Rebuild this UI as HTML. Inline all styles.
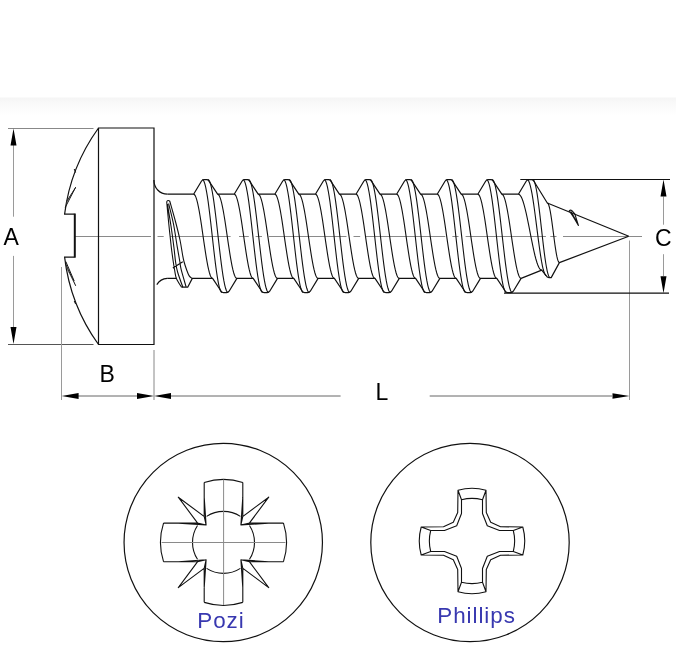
<!DOCTYPE html>
<html><head><meta charset="utf-8"><style>
html,body{margin:0;padding:0;background:#fff;}
body{width:680px;height:670px;overflow:hidden;position:relative;font-family:"Liberation Sans",sans-serif;}
svg{position:absolute;left:0;top:0;will-change:transform;}
.t{position:absolute;line-height:1;white-space:nowrap;}
</style></head><body>
<svg width="680" height="670" viewBox="0 0 680 670">
<defs><linearGradient id="band" x1="0" y1="0" x2="0" y2="1"><stop offset="0" stop-color="#f5f5f5"/><stop offset="0.35" stop-color="#f9f9f9"/><stop offset="1" stop-color="#fff"/></linearGradient></defs>
<rect x="0" y="97.5" width="676" height="18" fill="url(#band)"/>
<path d="M8 128.5 H93.5" stroke="#888" stroke-width="1" fill="none"/>
<path d="M8 344.5 H93.5" stroke="#555" stroke-width="1" fill="none"/>
<path d="M13.5 145 V216.7 M13.5 255.9 V327 M61.5 267 V400 M629.5 240.5 V400 M663.5 196.5 V224.7 M663.5 254.2 V276" stroke="#9a9a9a" stroke-width="1" fill="none"/>
<path d="M154 350 V400" stroke="#888" stroke-width="1" fill="none"/>
<path d="M78 396 H137 M171 396 H340.6 M429.7 396 H612" stroke="#666" stroke-width="1" fill="none"/>
<path d="M13.5 128.5 L10.5 145.5 L16.5 145.5 Z M13.5 344 L16.5 327 L10.5 327 Z M61.6 396 L78.6 399 L78.6 393 Z M154 396 L137 393 L137 399 Z M154 396 L171 399 L171 393 Z M629.5 396 L612.5 393.3 L612.5 398.7 Z M663.5 179.6 L660.5 196.6 L666.5 196.6 Z M663.5 293.2 L666.5 276.2 L660.5 276.2 Z" fill="#000"/>
<path d="M520.3 179.5 H670 M504 293.2 H669" stroke="#111" stroke-width="1.2" fill="none"/>
<path d="M74.5 236.5 H151 M157.5 236.5 H163.7 M170 236.5 H230.6 M239 236.5 H248.8 M255.6 236.5 H262 M268.8 236.5 H346.5 M353.5 236.5 H360.2 M365.9 236.5 H445.3 M452.4 236.5 H458.5 M465.6 236.5 H545.9 M550.3 236.5 H556.5 M563 236.5 H642" stroke="#8a8a8a" stroke-width="1" fill="none"/>
<path d="M98.5 128 H154 V344.5 H98.5 Z M98.5 128 A187 187 0 0 0 64.6 214.1 H74.5 M74.5 257.1 H64.6 A187 187 0 0 0 98.5 344.5" stroke="#111" stroke-width="1.2" fill="none"/>
<path d="M74.8 213.5 V257.7" stroke="#111" stroke-width="2" fill="none"/>
<path d="M154 180 A13.5 13.5 0 0 0 167.5 194.2 M156.8 284.6 A13.4 13.4 0 0 1 167.2 278.4" stroke="#111" stroke-width="1.2" fill="none"/>
<path d="M167.5 194.2 L193.6 194.2 L201.4 181.2 Q202.4 179.6 203.8 179.6 L206.8 179.6 Q208 179.6 208.8 180.8 L217.6 194.2 L234.2 194.2 L242 181.2 Q243 179.6 244.4 179.6 L247.4 179.6 Q248.6 179.6 249.4 180.8 L258.2 194.2 L274.8 194.2 L282.6 181.2 Q283.6 179.6 285 179.6 L288 179.6 Q289.2 179.6 290 180.8 L298.8 194.2 L315.4 194.2 L323.2 181.2 Q324.2 179.6 325.6 179.6 L328.6 179.6 Q329.8 179.6 330.6 180.8 L339.4 194.2 L356 194.2 L363.8 181.2 Q364.8 179.6 366.2 179.6 L369.2 179.6 Q370.4 179.6 371.2 180.8 L380 194.2 L396.6 194.2 L404.4 181.2 Q405.4 179.6 406.8 179.6 L409.8 179.6 Q411 179.6 411.8 180.8 L420.6 194.2 L437.2 194.2 L445 181.2 Q446 179.6 447.4 179.6 L450.4 179.6 Q451.6 179.6 452.4 180.8 L461.2 194.2 L477.8 194.2 L485.6 181.2 Q486.6 179.6 488 179.6 L491 179.6 Q492.2 179.6 493 180.8 L501.8 194.2 L518.4 194.2 L526.2 181.2 Q527.2 179.6 528.6 179.6 L531.6 179.6 Q532.8 179.6 533.6 180.8 L547.3 203 L628.8 236.3 M167.2 278.4 L176.4 278.4 M181.5 287.2 L187.7 287.2 L192.3 278.4 L212.6 278.4 L221 291 Q222.1 292.6 223.5 292.6 L226.7 292.6 Q228.1 292.6 229.1 291.2 L236.9 278.4 L253.2 278.4 L261.6 291 Q262.7 292.6 264.1 292.6 L267.3 292.6 Q268.7 292.6 269.7 291.2 L277.5 278.4 L293.8 278.4 L302.2 291 Q303.3 292.6 304.7 292.6 L307.9 292.6 Q309.3 292.6 310.3 291.2 L318.1 278.4 L334.4 278.4 L342.8 291 Q343.9 292.6 345.3 292.6 L348.5 292.6 Q349.9 292.6 350.9 291.2 L358.7 278.4 L375 278.4 L383.4 291 Q384.5 292.6 385.9 292.6 L389.1 292.6 Q390.5 292.6 391.5 291.2 L399.3 278.4 L415.6 278.4 L424 291 Q425.1 292.6 426.5 292.6 L429.7 292.6 Q431.1 292.6 432.1 291.2 L439.9 278.4 L456.2 278.4 L464.6 291 Q465.7 292.6 467.1 292.6 L470.3 292.6 Q471.7 292.6 472.7 291.2 L480.5 278.4 L496.8 278.4 L505.2 291 Q506.3 292.6 507.7 292.6 L510.9 292.6 Q512.3 292.6 513.3 291.2 L521.1 278.4 L541.7 270.1 L545.8 275.2 Q547 277.4 549 277.6 L551.2 277.6 L559.4 262.6 L628.8 236.3" stroke="#111" stroke-width="1.2" fill="none" stroke-linejoin="round"/>
<path d="M193.6 194.2 L194.39 194.56 L195.18 195.63 L195.97 197.4 L196.77 199.84 L197.56 202.9 L198.35 206.53 L199.14 210.67 L199.93 215.25 L200.72 220.19 L201.52 225.4 L202.31 230.8 L203.1 236.3 L203.89 241.8 L204.68 247.2 L205.47 252.41 L206.27 257.35 L207.06 261.93 L207.85 266.07 L208.64 269.7 L209.43 272.76 L210.22 275.2 L211.02 276.97 L211.81 278.04 L212.6 278.4 M202.4 179.6 L203.22 180.08 L204.04 181.53 L204.86 183.9 L205.68 187.17 L206.5 191.28 L207.32 196.15 L208.15 201.7 L208.97 207.85 L209.79 214.48 L210.61 221.48 L211.43 228.73 L212.25 236.1 L213.07 243.47 L213.89 250.72 L214.71 257.72 L215.53 264.35 L216.35 270.5 L217.18 276.05 L218 280.92 L218.82 285.03 L219.64 288.3 L220.46 290.67 L221.28 292.12 L222.1 292.6 M208 179.6 L208.84 180.08 L209.68 181.53 L210.51 183.9 L211.35 187.17 L212.19 191.28 L213.03 196.15 L213.86 201.7 L214.7 207.85 L215.54 214.48 L216.38 221.48 L217.21 228.73 L218.05 236.1 L218.89 243.47 L219.72 250.72 L220.56 257.72 L221.4 264.35 L222.24 270.5 L223.07 276.05 L223.91 280.92 L224.75 285.03 L225.59 288.3 L226.42 290.67 L227.26 292.12 L228.1 292.6 M217.6 194.2 L218.4 194.56 L219.21 195.63 L220.01 197.4 L220.82 199.84 L221.62 202.9 L222.43 206.53 L223.23 210.67 L224.03 215.25 L224.84 220.19 L225.64 225.4 L226.45 230.8 L227.25 236.3 L228.05 241.8 L228.86 247.2 L229.66 252.41 L230.47 257.35 L231.27 261.93 L232.07 266.07 L232.88 269.7 L233.68 272.76 L234.49 275.2 L235.29 276.97 L236.1 278.04 L236.9 278.4 M234.2 194.2 L234.99 194.56 L235.78 195.63 L236.57 197.4 L237.37 199.84 L238.16 202.9 L238.95 206.53 L239.74 210.67 L240.53 215.25 L241.32 220.19 L242.12 225.4 L242.91 230.8 L243.7 236.3 L244.49 241.8 L245.28 247.2 L246.07 252.41 L246.87 257.35 L247.66 261.93 L248.45 266.07 L249.24 269.7 L250.03 272.76 L250.82 275.2 L251.62 276.97 L252.41 278.04 L253.2 278.4 M243 179.6 L243.82 180.08 L244.64 181.53 L245.46 183.9 L246.28 187.17 L247.1 191.28 L247.93 196.15 L248.75 201.7 L249.57 207.85 L250.39 214.48 L251.21 221.48 L252.03 228.73 L252.85 236.1 L253.67 243.47 L254.49 250.72 L255.31 257.72 L256.13 264.35 L256.95 270.5 L257.77 276.05 L258.6 280.92 L259.42 285.03 L260.24 288.3 L261.06 290.67 L261.88 292.12 L262.7 292.6 M248.6 179.6 L249.44 180.08 L250.28 181.53 L251.11 183.9 L251.95 187.17 L252.79 191.28 L253.62 196.15 L254.46 201.7 L255.3 207.85 L256.14 214.48 L256.97 221.48 L257.81 228.73 L258.65 236.1 L259.49 243.47 L260.32 250.72 L261.16 257.72 L262 264.35 L262.84 270.5 L263.68 276.05 L264.51 280.92 L265.35 285.03 L266.19 288.3 L267.02 290.67 L267.86 292.12 L268.7 292.6 M258.2 194.2 L259 194.56 L259.81 195.63 L260.61 197.4 L261.42 199.84 L262.22 202.9 L263.02 206.53 L263.83 210.67 L264.63 215.25 L265.44 220.19 L266.24 225.4 L267.05 230.8 L267.85 236.3 L268.65 241.8 L269.46 247.2 L270.26 252.41 L271.07 257.35 L271.87 261.93 L272.68 266.07 L273.48 269.7 L274.28 272.76 L275.09 275.2 L275.89 276.97 L276.7 278.04 L277.5 278.4 M274.8 194.2 L275.59 194.56 L276.38 195.63 L277.18 197.4 L277.97 199.84 L278.76 202.9 L279.55 206.53 L280.34 210.67 L281.13 215.25 L281.93 220.19 L282.72 225.4 L283.51 230.8 L284.3 236.3 L285.09 241.8 L285.88 247.2 L286.68 252.41 L287.47 257.35 L288.26 261.93 L289.05 266.07 L289.84 269.7 L290.63 272.76 L291.43 275.2 L292.22 276.97 L293.01 278.04 L293.8 278.4 M283.6 179.6 L284.42 180.08 L285.24 181.53 L286.06 183.9 L286.88 187.17 L287.7 191.28 L288.53 196.15 L289.35 201.7 L290.17 207.85 L290.99 214.48 L291.81 221.48 L292.63 228.73 L293.45 236.1 L294.27 243.47 L295.09 250.72 L295.91 257.72 L296.73 264.35 L297.55 270.5 L298.38 276.05 L299.2 280.92 L300.02 285.03 L300.84 288.3 L301.66 290.67 L302.48 292.12 L303.3 292.6 M289.2 179.6 L290.04 180.08 L290.88 181.53 L291.71 183.9 L292.55 187.17 L293.39 191.28 L294.23 196.15 L295.06 201.7 L295.9 207.85 L296.74 214.48 L297.58 221.48 L298.41 228.73 L299.25 236.1 L300.09 243.47 L300.93 250.72 L301.76 257.72 L302.6 264.35 L303.44 270.5 L304.28 276.05 L305.11 280.92 L305.95 285.03 L306.79 288.3 L307.62 290.67 L308.46 292.12 L309.3 292.6 M298.8 194.2 L299.6 194.56 L300.41 195.63 L301.21 197.4 L302.02 199.84 L302.82 202.9 L303.62 206.53 L304.43 210.67 L305.23 215.25 L306.04 220.19 L306.84 225.4 L307.65 230.8 L308.45 236.3 L309.25 241.8 L310.06 247.2 L310.86 252.41 L311.67 257.35 L312.47 261.93 L313.28 266.07 L314.08 269.7 L314.88 272.76 L315.69 275.2 L316.49 276.97 L317.3 278.04 L318.1 278.4 M315.4 194.2 L316.19 194.56 L316.98 195.63 L317.78 197.4 L318.57 199.84 L319.36 202.9 L320.15 206.53 L320.94 210.67 L321.73 215.25 L322.53 220.19 L323.32 225.4 L324.11 230.8 L324.9 236.3 L325.69 241.8 L326.48 247.2 L327.27 252.41 L328.07 257.35 L328.86 261.93 L329.65 266.07 L330.44 269.7 L331.23 272.76 L332.02 275.2 L332.82 276.97 L333.61 278.04 L334.4 278.4 M324.2 179.6 L325.02 180.08 L325.84 181.53 L326.66 183.9 L327.48 187.17 L328.3 191.28 L329.12 196.15 L329.95 201.7 L330.77 207.85 L331.59 214.48 L332.41 221.48 L333.23 228.73 L334.05 236.1 L334.87 243.47 L335.69 250.72 L336.51 257.72 L337.33 264.35 L338.15 270.5 L338.98 276.05 L339.8 280.92 L340.62 285.03 L341.44 288.3 L342.26 290.67 L343.08 292.12 L343.9 292.6 M329.8 179.6 L330.64 180.08 L331.48 181.53 L332.31 183.9 L333.15 187.17 L333.99 191.28 L334.83 196.15 L335.66 201.7 L336.5 207.85 L337.34 214.48 L338.18 221.48 L339.01 228.73 L339.85 236.1 L340.69 243.47 L341.53 250.72 L342.36 257.72 L343.2 264.35 L344.04 270.5 L344.88 276.05 L345.71 280.92 L346.55 285.03 L347.39 288.3 L348.22 290.67 L349.06 292.12 L349.9 292.6 M339.4 194.2 L340.2 194.56 L341.01 195.63 L341.81 197.4 L342.62 199.84 L343.42 202.9 L344.23 206.53 L345.03 210.67 L345.83 215.25 L346.64 220.19 L347.44 225.4 L348.25 230.8 L349.05 236.3 L349.85 241.8 L350.66 247.2 L351.46 252.41 L352.27 257.35 L353.07 261.93 L353.88 266.07 L354.68 269.7 L355.48 272.76 L356.29 275.2 L357.09 276.97 L357.9 278.04 L358.7 278.4 M356 194.2 L356.79 194.56 L357.58 195.63 L358.38 197.4 L359.17 199.84 L359.96 202.9 L360.75 206.53 L361.54 210.67 L362.33 215.25 L363.12 220.19 L363.92 225.4 L364.71 230.8 L365.5 236.3 L366.29 241.8 L367.08 247.2 L367.88 252.41 L368.67 257.35 L369.46 261.93 L370.25 266.07 L371.04 269.7 L371.83 272.76 L372.62 275.2 L373.42 276.97 L374.21 278.04 L375 278.4 M364.8 179.6 L365.62 180.08 L366.44 181.53 L367.26 183.9 L368.08 187.17 L368.9 191.28 L369.73 196.15 L370.55 201.7 L371.37 207.85 L372.19 214.48 L373.01 221.48 L373.83 228.73 L374.65 236.1 L375.47 243.47 L376.29 250.72 L377.11 257.72 L377.93 264.35 L378.75 270.5 L379.57 276.05 L380.4 280.92 L381.22 285.03 L382.04 288.3 L382.86 290.67 L383.68 292.12 L384.5 292.6 M370.4 179.6 L371.24 180.08 L372.08 181.53 L372.91 183.9 L373.75 187.17 L374.59 191.28 L375.43 196.15 L376.26 201.7 L377.1 207.85 L377.94 214.48 L378.78 221.48 L379.61 228.73 L380.45 236.1 L381.29 243.47 L382.12 250.72 L382.96 257.72 L383.8 264.35 L384.64 270.5 L385.48 276.05 L386.31 280.92 L387.15 285.03 L387.99 288.3 L388.82 290.67 L389.66 292.12 L390.5 292.6 M380 194.2 L380.8 194.56 L381.61 195.63 L382.41 197.4 L383.22 199.84 L384.02 202.9 L384.82 206.53 L385.63 210.67 L386.43 215.25 L387.24 220.19 L388.04 225.4 L388.85 230.8 L389.65 236.3 L390.45 241.8 L391.26 247.2 L392.06 252.41 L392.87 257.35 L393.67 261.93 L394.48 266.07 L395.28 269.7 L396.08 272.76 L396.89 275.2 L397.69 276.97 L398.5 278.04 L399.3 278.4 M396.6 194.2 L397.39 194.56 L398.18 195.63 L398.97 197.4 L399.77 199.84 L400.56 202.9 L401.35 206.53 L402.14 210.67 L402.93 215.25 L403.72 220.19 L404.52 225.4 L405.31 230.8 L406.1 236.3 L406.89 241.8 L407.68 247.2 L408.48 252.41 L409.27 257.35 L410.06 261.93 L410.85 266.07 L411.64 269.7 L412.43 272.76 L413.23 275.2 L414.02 276.97 L414.81 278.04 L415.6 278.4 M405.4 179.6 L406.22 180.08 L407.04 181.53 L407.86 183.9 L408.68 187.17 L409.5 191.28 L410.32 196.15 L411.15 201.7 L411.97 207.85 L412.79 214.48 L413.61 221.48 L414.43 228.73 L415.25 236.1 L416.07 243.47 L416.89 250.72 L417.71 257.72 L418.53 264.35 L419.35 270.5 L420.18 276.05 L421 280.92 L421.82 285.03 L422.64 288.3 L423.46 290.67 L424.28 292.12 L425.1 292.6 M411 179.6 L411.84 180.08 L412.68 181.53 L413.51 183.9 L414.35 187.17 L415.19 191.28 L416.02 196.15 L416.86 201.7 L417.7 207.85 L418.54 214.48 L419.38 221.48 L420.21 228.73 L421.05 236.1 L421.89 243.47 L422.73 250.72 L423.56 257.72 L424.4 264.35 L425.24 270.5 L426.08 276.05 L426.91 280.92 L427.75 285.03 L428.59 288.3 L429.43 290.67 L430.26 292.12 L431.1 292.6 M420.6 194.2 L421.4 194.56 L422.21 195.63 L423.01 197.4 L423.82 199.84 L424.62 202.9 L425.42 206.53 L426.23 210.67 L427.03 215.25 L427.84 220.19 L428.64 225.4 L429.45 230.8 L430.25 236.3 L431.05 241.8 L431.86 247.2 L432.66 252.41 L433.47 257.35 L434.27 261.93 L435.08 266.07 L435.88 269.7 L436.68 272.76 L437.49 275.2 L438.29 276.97 L439.1 278.04 L439.9 278.4 M437.2 194.2 L437.99 194.56 L438.78 195.63 L439.57 197.4 L440.37 199.84 L441.16 202.9 L441.95 206.53 L442.74 210.67 L443.53 215.25 L444.32 220.19 L445.12 225.4 L445.91 230.8 L446.7 236.3 L447.49 241.8 L448.28 247.2 L449.08 252.41 L449.87 257.35 L450.66 261.93 L451.45 266.07 L452.24 269.7 L453.03 272.76 L453.83 275.2 L454.62 276.97 L455.41 278.04 L456.2 278.4 M446 179.6 L446.82 180.08 L447.64 181.53 L448.46 183.9 L449.28 187.17 L450.1 191.28 L450.93 196.15 L451.75 201.7 L452.57 207.85 L453.39 214.48 L454.21 221.48 L455.03 228.73 L455.85 236.1 L456.67 243.47 L457.49 250.72 L458.31 257.72 L459.13 264.35 L459.95 270.5 L460.78 276.05 L461.6 280.92 L462.42 285.03 L463.24 288.3 L464.06 290.67 L464.88 292.12 L465.7 292.6 M451.6 179.6 L452.44 180.08 L453.28 181.53 L454.11 183.9 L454.95 187.17 L455.79 191.28 L456.62 196.15 L457.46 201.7 L458.3 207.85 L459.14 214.48 L459.98 221.48 L460.81 228.73 L461.65 236.1 L462.49 243.47 L463.33 250.72 L464.16 257.72 L465 264.35 L465.84 270.5 L466.68 276.05 L467.51 280.92 L468.35 285.03 L469.19 288.3 L470.03 290.67 L470.86 292.12 L471.7 292.6 M461.2 194.2 L462 194.56 L462.81 195.63 L463.61 197.4 L464.42 199.84 L465.22 202.9 L466.02 206.53 L466.83 210.67 L467.63 215.25 L468.44 220.19 L469.24 225.4 L470.05 230.8 L470.85 236.3 L471.65 241.8 L472.46 247.2 L473.26 252.41 L474.07 257.35 L474.87 261.93 L475.68 266.07 L476.48 269.7 L477.28 272.76 L478.09 275.2 L478.89 276.97 L479.7 278.04 L480.5 278.4 M477.8 194.2 L478.59 194.56 L479.38 195.63 L480.18 197.4 L480.97 199.84 L481.76 202.9 L482.55 206.53 L483.34 210.67 L484.13 215.25 L484.93 220.19 L485.72 225.4 L486.51 230.8 L487.3 236.3 L488.09 241.8 L488.88 247.2 L489.67 252.41 L490.47 257.35 L491.26 261.93 L492.05 266.07 L492.84 269.7 L493.63 272.76 L494.42 275.2 L495.22 276.97 L496.01 278.04 L496.8 278.4 M486.6 179.6 L487.42 180.08 L488.24 181.53 L489.06 183.9 L489.88 187.17 L490.7 191.28 L491.52 196.15 L492.35 201.7 L493.17 207.85 L493.99 214.48 L494.81 221.48 L495.63 228.73 L496.45 236.1 L497.27 243.47 L498.09 250.72 L498.91 257.72 L499.73 264.35 L500.55 270.5 L501.38 276.05 L502.2 280.92 L503.02 285.03 L503.84 288.3 L504.66 290.67 L505.48 292.12 L506.3 292.6 M492.2 179.6 L493.04 180.08 L493.88 181.53 L494.71 183.9 L495.55 187.17 L496.39 191.28 L497.23 196.15 L498.06 201.7 L498.9 207.85 L499.74 214.48 L500.57 221.48 L501.41 228.73 L502.25 236.1 L503.09 243.47 L503.93 250.72 L504.76 257.72 L505.6 264.35 L506.44 270.5 L507.27 276.05 L508.11 280.92 L508.95 285.03 L509.79 288.3 L510.62 290.67 L511.46 292.12 L512.3 292.6 M501.8 194.2 L502.6 194.56 L503.41 195.63 L504.21 197.4 L505.02 199.84 L505.82 202.9 L506.62 206.53 L507.43 210.67 L508.23 215.25 L509.04 220.19 L509.84 225.4 L510.65 230.8 L511.45 236.3 L512.25 241.8 L513.06 247.2 L513.86 252.41 L514.67 257.35 L515.47 261.93 L516.27 266.07 L517.08 269.7 L517.88 272.76 L518.69 275.2 L519.49 276.97 L520.3 278.04 L521.1 278.4 M518.4 194.2 L519.37 194.52 L520.34 195.49 L521.31 197.09 L522.28 199.28 L523.25 202.04 L524.23 205.32 L525.2 209.05 L526.17 213.17 L527.14 217.63 L528.11 222.33 L529.08 227.2 L530.05 232.15 L531.02 237.1 L531.99 241.97 L532.96 246.67 L533.93 251.12 L534.9 255.25 L535.88 258.98 L536.85 262.26 L537.82 265.02 L538.79 267.21 L539.76 268.81 L540.73 269.78 L541.7 270.1 M527.2 179.6 L528 180.01 L528.8 181.24 L529.6 183.26 L530.4 186.04 L531.2 189.53 L532 193.67 L532.8 198.4 L533.6 203.62 L534.4 209.26 L535.2 215.21 L536 221.38 L536.8 227.65 L537.6 233.92 L538.4 240.09 L539.2 246.04 L540 251.67 L540.8 256.9 L541.6 261.63 L542.4 265.77 L543.2 269.26 L544 272.04 L544.8 274.06 L545.6 275.29 L546.4 275.7 M532.8 179.6 L533.52 180.02 L534.24 181.27 L534.96 183.33 L535.68 186.16 L536.4 189.73 L537.12 193.95 L537.85 198.77 L538.57 204.1 L539.29 209.85 L540.01 215.92 L540.73 222.2 L541.45 228.6 L542.17 235 L542.89 241.28 L543.61 247.35 L544.33 253.1 L545.05 258.43 L545.78 263.25 L546.5 267.47 L547.22 271.04 L547.94 273.87 L548.66 275.93 L549.38 277.18 L550.1 277.6 M547.3 203 L547.8 203.25 L548.31 204.02 L548.81 205.27 L549.32 206.99 L549.82 209.16 L550.32 211.73 L550.83 214.66 L551.33 217.9 L551.84 221.4 L552.34 225.09 L552.85 228.91 L553.35 232.8 L553.85 236.69 L554.36 240.51 L554.86 244.2 L555.37 247.7 L555.87 250.94 L556.38 253.87 L556.88 256.44 L557.38 258.61 L557.89 260.33 L558.39 261.58 L558.9 262.35 L559.4 262.6 M166.7 201.7 C167.05 205.42 168.03 216.42 168.8 224 C169.57 231.58 170.55 240.87 171.3 247.2 C172.05 253.53 172.75 258.2 173.3 262 C173.85 265.8 174.08 267.25 174.6 270 C175.12 272.75 175.25 275.63 176.4 278.5 C177.55 281.37 180.65 285.75 181.5 287.2 M167.4 204 C168 207.67 169.92 218.8 171 226 C172.08 233.2 173.13 241.2 173.9 247.2 C174.67 253.2 174.98 257.87 175.6 262 C176.22 266.13 176.4 267.8 177.6 272 C178.8 276.2 181.93 284.67 182.8 287.2 M168.6 203.5 C169.42 206.92 172.05 216.72 173.5 224 C174.95 231.28 176.23 240.87 177.3 247.2 C178.37 253.53 179.25 258.25 179.9 262 C180.55 265.75 180.17 265.55 181.2 269.7 C182.23 273.85 185.28 284.03 186.1 286.9 M169.7 201 C170.68 204.5 173.88 215.5 175.6 222 C177.32 228.5 178.83 234.5 180 240 C181.17 245.5 181.92 251.33 182.6 255 C183.28 258.67 183.43 259.55 184.1 262 C184.77 264.45 185.75 267.38 186.6 269.7 C187.45 272.02 188.25 274.43 189.2 275.9 C190.15 277.37 191.78 278.07 192.3 278.5 M166.7 201.7 Q167.8 199.6 169.7 201 M172.8 268 L182.8 261.8" stroke="#111" stroke-width="1.1" fill="none"/>
<path d="M569.2 210.8 Q570.5 209.5 571.9 210.6 L574.8 213.9 L578.4 225.5 L573.4 217 Z M571 211.5 L576.5 221.5" stroke="#111" stroke-width="1.1" fill="none" stroke-linejoin="round"/>
<path d="M75.7 187.1 L65.2 207.5 M75.2 188.2 L66.6 201.5 M65.4 263.5 L75.7 285.8 M65.8 261.5 L74.2 281 M74.2 169 L75.6 172.5 M74.2 301 L75.6 304" stroke="#111" stroke-width="1" fill="none"/>
<path d="M75.7 187.1 L66.8 201 L65.6 205 Z M75.7 285.8 L67.5 270.5 L65.8 265.5 Z" fill="#444"/>
<circle cx="223.25" cy="542.5" r="99.2" stroke="#111" stroke-width="1.2" fill="none"/>
<path d="M204.2 482.43 A63 63 0 0 1 242.8 482.43 M242.8 482.43 L242.8 516.4 L240.9 525 L249.5 523.1 L283.47 523.1 M242.8 497.4 L240.9 525 L268.5 523.1 M242.3 516.9 L268.7 497.2 L249 523.6 M206.62 516.4 A31 31 0 0 1 240.38 516.4 M283.47 523.1 A63 63 0 0 1 283.47 561.7 M283.47 561.7 L249.5 561.7 L240.9 559.8 L242.8 568.4 L242.8 602.37 M268.5 561.7 L240.9 559.8 L242.8 587.4 M249 561.2 L268.7 587.6 L242.3 567.9 M249.5 525.52 A31 31 0 0 1 249.5 559.28 M242.8 602.37 A63 63 0 0 1 204.2 602.37 M204.2 602.37 L204.2 568.4 L206.1 559.8 L197.5 561.7 L163.53 561.7 M204.2 587.4 L206.1 559.8 L178.5 561.7 M204.7 567.9 L178.3 587.6 L198 561.2 M240.38 568.4 A31 31 0 0 1 206.62 568.4 M163.53 561.7 A63 63 0 0 1 163.53 523.1 M163.53 523.1 L197.5 523.1 L206.1 525 L204.2 516.4 L204.2 482.43 M178.5 523.1 L206.1 525 L204.2 497.4 M198 523.6 L178.3 497.2 L204.7 516.9 M197.5 559.28 A31 31 0 0 1 197.5 525.52" stroke="#111" stroke-width="1.1" fill="none" stroke-linejoin="round"/>
<path d="M223.6 479.5 V605 M161.6 542.5 H285.5" stroke="#8a8a8a" stroke-width="1" fill="none"/>
<circle cx="470" cy="542.5" r="99.2" stroke="#111" stroke-width="1.2" fill="none"/>
<path d="M458 490.2 A52 52 0 0 1 486 490.2 L486.3 512.5 L490.7 522.3 L500.5 526.7 L522.8 527 L522.8 527 A52 52 0 0 1 522.8 555 L500.5 555.3 L490.7 559.7 L486.3 569.5 L486 591.8 L486 591.8 A52 52 0 0 1 458 591.8 L457.7 569.5 L453.3 559.7 L443.5 555.3 L421.2 555 L421.2 555 A52 52 0 0 1 421.2 527 L443.5 526.7 L453.3 522.3 L457.7 512.5 L458 490.2 Z M461.5 499.7 A42 42 0 0 1 482.5 499.7 L482.5 513.5 L487.3 525.7 L499.5 530.5 L513.3 530.5 L513.3 530.5 A42 42 0 0 1 513.3 551.5 L499.5 551.5 L487.3 556.3 L482.5 568.5 L482.5 582.3 L482.5 582.3 A42 42 0 0 1 461.5 582.3 L461.5 568.5 L456.7 556.3 L444.5 551.5 L430.7 551.5 L430.7 551.5 A42 42 0 0 1 430.7 530.5 L444.5 530.5 L456.7 525.7 L461.5 513.5 L461.5 499.7 Z M458 490.2 L461.5 499.7 M486 490.2 L482.5 499.7 M522.8 527 L513.3 530.5 M522.8 555 L513.3 551.5 M486 591.8 L482.5 582.3 M458 591.8 L461.5 582.3 M421.2 555 L430.7 551.5 M421.2 527 L430.7 530.5" stroke="#111" stroke-width="1.1" fill="none" stroke-linejoin="round"/>
<g font-family="Liberation Sans, sans-serif" font-size="23">
<text x="3.5" y="244.8" fill="#000">A</text>
<text x="99.5" y="382" fill="#000">B</text>
<text x="375.5" y="400.3" fill="#000">L</text>
<text x="655" y="245.8" fill="#000">C</text>
<text x="197.3" y="627.8" fill="#3838b0" letter-spacing="0.95" font-size="22.4">Pozi</text>
<text x="437.3" y="622.9" fill="#3838b0" letter-spacing="0.95" font-size="22.4">Phillips</text>
</g>
</svg>
</body></html>
